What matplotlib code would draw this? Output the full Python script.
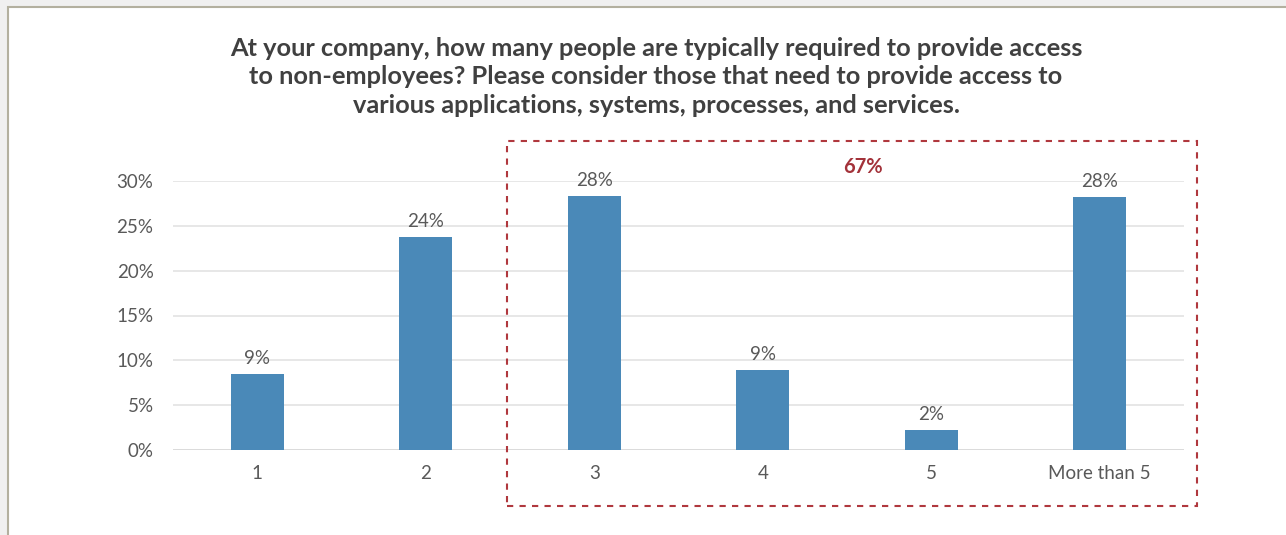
import matplotlib
matplotlib.use("Agg")
import matplotlib.pyplot as plt
from matplotlib.patches import Rectangle
from matplotlib.ticker import PercentFormatter

categories = ["1", "2", "3", "4", "5", "More than 5"]
shares = [8.5, 23.8, 28.3, 8.9, 2.2, 28.2]
share_labels = ["9%", "24%", "28%", "9%", "2%", "28%"]
group_label = "67%"
y_ticks = [0, 5, 10, 15, 20, 25, 30]
title = ("At your company, how many people are typically required to provide access\n"
         "to non-employees? Please consider those that need to provide access to\n"
         "various applications, systems, processes, and services.")

W, H = 1286, 535
fig = plt.figure(figsize=(W / 100, H / 100), dpi=100)
fig.patch.set_facecolor("#f0f0f0")

# white card with a thin border
card = Rectangle((8 / W, -0.01), 1.01 - 8 / W, 1.01 - 7 / H, transform=fig.transFigure,
                 facecolor="white", edgecolor="#b3b09f", linewidth=1.5, zorder=-5)
fig.patches.append(card)

ax = fig.add_axes([173 / W, 1 - 450 / H, (1184 - 173) / W, (450 - 181) / H])
ax.set_facecolor("none")
ax.set_zorder(2)

bar_color = "#4a89b8"
text_color = "#595959"
x = list(range(len(categories)))
bars = ax.bar(x, shares, width=0.315, color=bar_color, zorder=3)
for b, lab in zip(bars, share_labels):
    ax.annotate(lab, (b.get_x() + b.get_width() / 2, b.get_height()),
                xytext=(0, 5), textcoords="offset points", ha="center", va="bottom",
                fontsize=13.5, color=text_color, family="Lato")

ax.set_xlim(-0.5, len(categories) - 0.5)
ax.set_ylim(0, 30)
ax.set_yticks(y_ticks)
ax.yaxis.set_major_formatter(PercentFormatter(decimals=0))
ax.set_xticks(x)
ax.set_xticklabels(categories)
ax.tick_params(axis="both", length=0, labelsize=13.5, labelcolor=text_color)
ax.tick_params(axis="y", pad=14)
ax.tick_params(axis="x", pad=11)
for lab in ax.get_xticklabels() + ax.get_yticklabels():
    lab.set_family("Lato")
ax.grid(axis="y", color="#e3e3e3", linewidth=1.2, zorder=0)
ax.set_axisbelow(True)
for s in ax.spines.values():
    s.set_visible(False)
ax.axhline(0, color="#d9d9d9", linewidth=1.2, zorder=2)

# dashed highlight around the categories 3 and above
box = Rectangle((507 / W, 1 - 506 / H), (1197 - 507) / W, (506 - 141) / H,
                transform=fig.transFigure, fill=False, edgecolor="#b0383e",
                linewidth=1.5, linestyle=(0, (3, 3)), zorder=5)
fig.patches.append(box)
fig.text(863 / W, 1 - 167 / H, group_label, ha="center", va="center",
         fontsize=14.5, fontweight="bold", color="#a3323a", family="Lato")

fig.text(656 / W, 1 - 77 / H, title, ha="center", va="center", fontsize=18.3,
         fontweight="bold", color="#404040", family="Lato", linespacing=1.27)

fig.savefig("out.png", dpi=100, facecolor=fig.get_facecolor())
